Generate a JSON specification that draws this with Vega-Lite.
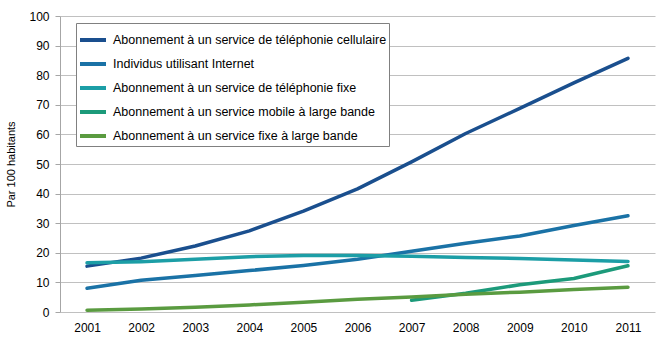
{
  "$schema": "https://vega.github.io/schema/vega-lite/v6.json",
  "autosize": "none",
  "width": 595,
  "height": 296,
  "padding": {"left": 60, "top": 16, "right": 5, "bottom": 33},
  "background": "white",
  "config": {
    "view": {"stroke": null},
    "font": "Liberation Sans"
  },
  "data": {
    "values": [
      {"annee": "2001", "serie": "Abonnement à un service de téléphonie cellulaire", "valeur": 15.5},
      {"annee": "2002", "serie": "Abonnement à un service de téléphonie cellulaire", "valeur": 18.2},
      {"annee": "2003", "serie": "Abonnement à un service de téléphonie cellulaire", "valeur": 22.3},
      {"annee": "2004", "serie": "Abonnement à un service de téléphonie cellulaire", "valeur": 27.4},
      {"annee": "2005", "serie": "Abonnement à un service de téléphonie cellulaire", "valeur": 34.1},
      {"annee": "2006", "serie": "Abonnement à un service de téléphonie cellulaire", "valeur": 41.6},
      {"annee": "2007", "serie": "Abonnement à un service de téléphonie cellulaire", "valeur": 50.7},
      {"annee": "2008", "serie": "Abonnement à un service de téléphonie cellulaire", "valeur": 60.3},
      {"annee": "2009", "serie": "Abonnement à un service de téléphonie cellulaire", "valeur": 68.8},
      {"annee": "2010", "serie": "Abonnement à un service de téléphonie cellulaire", "valeur": 77.4},
      {"annee": "2011", "serie": "Abonnement à un service de téléphonie cellulaire", "valeur": 85.7},
      {"annee": "2001", "serie": "Individus utilisant Internet", "valeur": 8.0},
      {"annee": "2002", "serie": "Individus utilisant Internet", "valeur": 10.7},
      {"annee": "2003", "serie": "Individus utilisant Internet", "valeur": 12.3},
      {"annee": "2004", "serie": "Individus utilisant Internet", "valeur": 14.0},
      {"annee": "2005", "serie": "Individus utilisant Internet", "valeur": 15.7},
      {"annee": "2006", "serie": "Individus utilisant Internet", "valeur": 17.8},
      {"annee": "2007", "serie": "Individus utilisant Internet", "valeur": 20.5},
      {"annee": "2008", "serie": "Individus utilisant Internet", "valeur": 23.2},
      {"annee": "2009", "serie": "Individus utilisant Internet", "valeur": 25.7},
      {"annee": "2010", "serie": "Individus utilisant Internet", "valeur": 29.2},
      {"annee": "2011", "serie": "Individus utilisant Internet", "valeur": 32.5},
      {"annee": "2001", "serie": "Abonnement à un service de téléphonie fixe", "valeur": 16.6},
      {"annee": "2002", "serie": "Abonnement à un service de téléphonie fixe", "valeur": 17.0},
      {"annee": "2003", "serie": "Abonnement à un service de téléphonie fixe", "valeur": 17.8},
      {"annee": "2004", "serie": "Abonnement à un service de téléphonie fixe", "valeur": 18.7},
      {"annee": "2005", "serie": "Abonnement à un service de téléphonie fixe", "valeur": 19.1},
      {"annee": "2006", "serie": "Abonnement à un service de téléphonie fixe", "valeur": 19.1},
      {"annee": "2007", "serie": "Abonnement à un service de téléphonie fixe", "valeur": 18.8},
      {"annee": "2008", "serie": "Abonnement à un service de téléphonie fixe", "valeur": 18.4},
      {"annee": "2009", "serie": "Abonnement à un service de téléphonie fixe", "valeur": 18.1},
      {"annee": "2010", "serie": "Abonnement à un service de téléphonie fixe", "valeur": 17.6},
      {"annee": "2011", "serie": "Abonnement à un service de téléphonie fixe", "valeur": 17.1},
      {"annee": "2007", "serie": "Abonnement à un service mobile à large bande", "valeur": 4.0},
      {"annee": "2008", "serie": "Abonnement à un service mobile à large bande", "valeur": 6.3},
      {"annee": "2009", "serie": "Abonnement à un service mobile à large bande", "valeur": 9.2},
      {"annee": "2010", "serie": "Abonnement à un service mobile à large bande", "valeur": 11.3},
      {"annee": "2011", "serie": "Abonnement à un service mobile à large bande", "valeur": 15.6},
      {"annee": "2001", "serie": "Abonnement à un service fixe à large bande", "valeur": 0.6},
      {"annee": "2002", "serie": "Abonnement à un service fixe à large bande", "valeur": 1.0},
      {"annee": "2003", "serie": "Abonnement à un service fixe à large bande", "valeur": 1.6},
      {"annee": "2004", "serie": "Abonnement à un service fixe à large bande", "valeur": 2.4},
      {"annee": "2005", "serie": "Abonnement à un service fixe à large bande", "valeur": 3.3},
      {"annee": "2006", "serie": "Abonnement à un service fixe à large bande", "valeur": 4.3},
      {"annee": "2007", "serie": "Abonnement à un service fixe à large bande", "valeur": 5.1},
      {"annee": "2008", "serie": "Abonnement à un service fixe à large bande", "valeur": 6.0},
      {"annee": "2009", "serie": "Abonnement à un service fixe à large bande", "valeur": 6.7},
      {"annee": "2010", "serie": "Abonnement à un service fixe à large bande", "valeur": 7.6},
      {"annee": "2011", "serie": "Abonnement à un service fixe à large bande", "valeur": 8.4}
    ]
  },
  "mark": {"type": "line", "strokeWidth": 3.5, "strokeCap": "round", "strokeJoin": "round"},
  "encoding": {
    "x": {
      "field": "annee",
      "type": "ordinal",
      "scale": {"type": "point", "padding": 0.5},
      "axis": {
        "title": null,
        "labelAngle": 0,
        "labelFontSize": 12,
        "labelColor": "#000000",
        "labelPadding": 10,
        "ticks": false,
        "domain": false,
        "grid": false
      }
    },
    "y": {
      "field": "valeur",
      "type": "quantitative",
      "scale": {"domain": [0, 100], "nice": false},
      "axis": {
        "title": "Par 100 habitants",
        "titleFontSize": 11,
        "titleFontWeight": "normal",
        "titleColor": "#000000",
        "titlePadding": 12,
        "values": [0, 10, 20, 30, 40, 50, 60, 70, 80, 90, 100],
        "labelFontSize": 12,
        "labelColor": "#000000",
        "labelPadding": 6,
        "tickSize": 5,
        "tickColor": "#a6a6a6",
        "domainColor": "#a6a6a6",
        "gridColor": "#c0c0c0",
        "gridWidth": 1
      }
    },
    "color": {
      "field": "serie",
      "type": "nominal",
      "scale": {
        "domain": [
          "Abonnement à un service de téléphonie cellulaire",
          "Individus utilisant Internet",
          "Abonnement à un service de téléphonie fixe",
          "Abonnement à un service mobile à large bande",
          "Abonnement à un service fixe à large bande"
        ],
        "range": ["#1a4f8e", "#1a72a6", "#1c9ea6", "#1c9a7a", "#5a9b40"]
      },
      "legend": {
        "title": null,
        "orient": "none",
        "legendX": 16,
        "legendY": 7,
        "symbolType": "stroke",
        "symbolSize": 676,
        "symbolStrokeWidth": 4,
        "labelFontSize": 12.5,
        "labelColor": "#000000",
        "labelLimit": 400,
        "rowPadding": 1,
        "padding": 2,
        "strokeColor": "#808080",
        "fillColor": "white",
        "labelOffset": 5
      }
    }
  }
}
